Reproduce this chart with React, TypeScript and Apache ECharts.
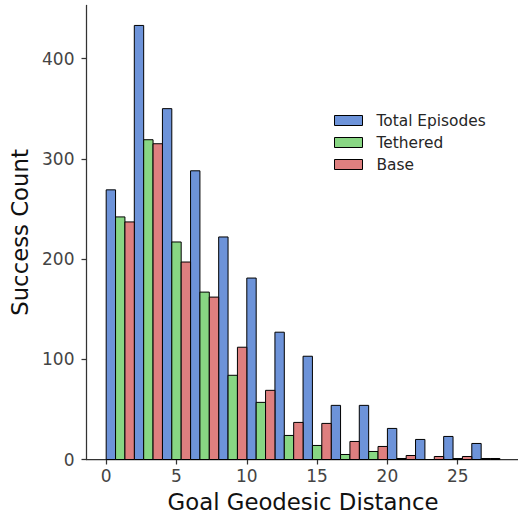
import React, { useEffect, useRef } from "react";
import * as echarts from "echarts";

// Histogram bins (start of each bin, width 2)
const binStarts = [0, 2, 4, 6, 8, 10, 12, 14, 16, 18, 20, 22, 24, 26];
const binWidth = 2;
const totalEpisodes = [269, 433, 350, 288, 222, 181, 127, 103, 54, 54, 31, 20, 23, 16];
const tethered = [242, 319, 217, 167, 84, 57, 24, 14, 5, 8, 1, 0, 1, 1];
const base = [237, 315, 197, 162, 112, 69, 37, 36, 18, 13, 4, 3, 3, 1];
const xTicks = [0, 5, 10, 15, 20, 25];
const yTicks = [0, 100, 200, 300, 400];
const seriesNames = ["Total Episodes", "Tethered", "Base"];
const seriesColors = ["#6d93d9", "#88d683", "#de7f7f"];

export default function App() {
  const ref = useRef<HTMLDivElement>(null);
  useEffect(() => {
    if (!ref.current) return;
    const chart = echarts.init(ref.current, undefined, { renderer: "svg" });
    const allValues = [totalEpisodes, tethered, base];
    const series = allValues.map((vals, k) => ({
      type: "custom",
      name: seriesNames[k],
      itemStyle: { color: seriesColors[k], borderColor: "#000", borderWidth: 1 },
      encode: { x: 0, y: 1 },
      data: binStarts.map((s, i) => [s, vals[i]]),
      renderItem: (params: any, api: any) => {
        const start = api.value(0);
        const v = api.value(1);
        const w = binWidth / 3;
        const x0 = start + k * w;
        const p0 = api.coord([x0, v]);
        const p1 = api.coord([x0 + w, 0]);
        return {
          type: "rect",
          shape: { x: p0[0], y: p0[1], width: p1[0] - p0[0], height: p1[1] - p0[1] },
          style: { fill: seriesColors[k], stroke: "#000", lineWidth: 1 },
        };
      },
    }));
    chart.setOption({
      animation: false,
      textStyle: { fontFamily: "DejaVu Sans" },
      grid: { left: 86.5, top: 5.4, width: 433.1, height: 454.1, outerBoundsMode: "none", containLabel: false },
      legend: {
        orient: "vertical",
        left: 334,
        top: 113,
        padding: 0,
        itemWidth: 28,
        itemHeight: 10,
        itemGap: 7,
        icon: "rect",
        data: seriesNames,
        itemStyle: { borderColor: "#000", borderWidth: 1 },
        textStyle: { fontSize: 15.4, color: "#262626", padding: [0, 0, 0, 9], fontFamily: "DejaVu Sans" },
      },
      xAxis: {
        type: "value",
        min: -1.4,
        max: 29.4,
        name: "Goal Geodesic Distance",
        nameLocation: "middle",
        nameGap: 31.5,
        nameTextStyle: { fontSize: 22.8, lineHeight: 22.5, color: "#111", fontFamily: "DejaVu Sans" },
        axisLine: { show: true, onZero: false, lineStyle: { color: "#333", width: 1.25 } },
        axisTick: { show: true, length: 5, customValues: xTicks, lineStyle: { color: "#333", width: 1.25 } },
        axisLabel: { customValues: xTicks, fontSize: 17, color: "#444", margin: 8, fontFamily: "DejaVu Sans" },
        splitLine: { show: false },
      },
      yAxis: {
        type: "value",
        min: 0,
        max: 453,
        name: "Success Count",
        nameLocation: "middle",
        nameRotate: 90,
        nameGap: 54,
        nameTextStyle: { fontSize: 22.8, color: "#111", fontFamily: "DejaVu Sans" },
        axisLine: { show: true, onZero: false, lineStyle: { color: "#333", width: 1.25 } },
        axisTick: { show: true, length: 5, customValues: yTicks, lineStyle: { color: "#333", width: 1.25 } },
        axisLabel: { customValues: yTicks, fontSize: 17, color: "#444", margin: 12, fontFamily: "DejaVu Sans" },
        splitLine: { show: false },
      },
      series,
    });
    return () => chart.dispose();
  }, []);
  return <div ref={ref} style={{ width: 518, height: 514, position: "absolute", left: 0, top: 0 }} />;
}
